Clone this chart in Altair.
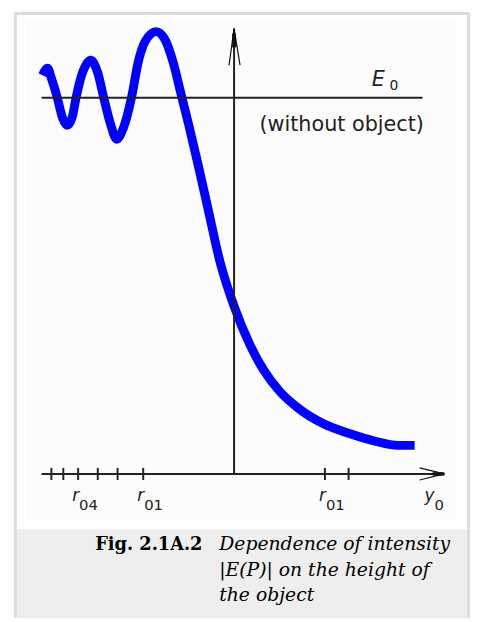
import altair as alt
import pandas as pd

# ---------------- data (axis units: x = object height y0, y = |E(P)| / E0) ----------------
curve_x = [-0.995, -0.969, -0.949, -0.918, -0.892, -0.867, -0.841, -0.821, -0.790, -0.744,
           -0.708, -0.677, -0.641, -0.610, -0.574, -0.533, -0.497, -0.462, -0.405, -0.359,
           -0.318, -0.277, -0.236, -0.190, -0.138, -0.072, 0.000, 0.082, 0.154, 0.236,
           0.338, 0.462, 0.595, 0.733, 0.851, 0.938]
curve_y = [1.060, 1.079, 1.052, 1.000, 0.948, 0.927, 0.948, 1.000, 1.063, 1.100,
           1.066, 1.000, 0.929, 0.890, 0.921, 1.000, 1.097, 1.150, 1.176, 1.155,
           1.097, 1.013, 0.929, 0.829, 0.711, 0.562, 0.446, 0.344, 0.276, 0.220,
           0.173, 0.134, 0.108, 0.087, 0.076, 0.076]

e0_level = 1.0
e0_line_x = [-1.0, 0.979]
x_axis_x = [-1.0, 1.092]
y_axis_top = 1.184

tick_x = [-0.949, -0.887, -0.810, -0.708, -0.605, -0.472, 0.472, 0.595]
tick_half = 0.016

label_x = [-0.805, -0.467, 0.477, 1.041]
label_main = ["r", "r", "r", "y"]
label_sub = ["04", "01", "01", "0"]
label_main_y = -0.071
label_sub_y = -0.095

e_label_x, e_label_y = 0.715, 1.031
e_sub_x, e_sub_y = 0.808, 1.021
note_text = "(without object)"
note_x, note_y = 0.559, 0.913

caption_label = "Fig. 2.1A.2"
caption_lines = ["Dependence of intensity", "|E(P)| on the height of", "the object"]

# arrow segments (x, y, x2, y2, width)
seg_x = [0.0, 0.0, 0.0, 1.092, 1.092, 1.031]
seg_y = [1.184, 1.184, 1.171, 0.0, 0.0, 0.0]
seg_x2 = [-0.026, 0.031, 0.0, 0.964, 0.964, 1.092]
seg_y2 = [1.087, 1.087, 1.134, 0.016, -0.016, 0.0]
seg_w = [1.2, 1.2, 4, 1.2, 1.2, 3.5]

# ---------------- layout ----------------
W, H = 469, 614
X0_PX, UX = 229, 195   # pixel of x=0, pixels per unit
Y0_PX, UY = 468, 381   # pixel of y=0, pixels per unit

xs = alt.Scale(domain=[-X0_PX / UX, (W - X0_PX) / UX], nice=False, zero=False)
ys = alt.Scale(domain=[(Y0_PX - H) / UY, Y0_PX / UY], nice=False, zero=False)

one = pd.DataFrame({"a": [0]})


def rect(x1, x2, y1, y2, color):
    return alt.Chart(one).mark_rect(color=color, opacity=1).encode(
        x=alt.value(x1), x2=alt.value(x2), y=alt.value(y1), y2=alt.value(y2))


decor = [
    rect(6, 468, 0, 614, "#dcdcdc"),
    rect(9, 465, 3, 614, "#ffffff"),
    rect(18, 455, 8, 515, "#fcfcfc"),
    rect(9, 465, 524, 614, "#eeeeee"),
]

curve_df = pd.DataFrame({"x": curve_x, "y": curve_y})
curve = alt.Chart(curve_df).mark_line(
    color="#0000ff", strokeWidth=9, interpolate="monotone", strokeJoin="round", strokeCap="butt"
).encode(x=alt.X("x:Q", scale=xs, axis=None), y=alt.Y("y:Q", scale=ys, axis=None))

lines_df = pd.DataFrame({
    "x": [e0_line_x[0], 0.0, x_axis_x[0]],
    "x2": [e0_line_x[1], 0.0, x_axis_x[1]],
    "y": [e0_level, 0.0, 0.0],
    "y2": [e0_level, y_axis_top, 0.0],
})
lines = alt.Chart(lines_df).mark_rule(color="#222222", strokeWidth=2).encode(
    x=alt.X("x:Q", scale=xs, axis=None), x2="x2:Q",
    y=alt.Y("y:Q", scale=ys, axis=None), y2="y2:Q")

ticks_df = pd.DataFrame({"x": tick_x, "y": [-tick_half] * len(tick_x), "y2": [tick_half] * len(tick_x)})
ticks = alt.Chart(ticks_df).mark_rule(color="#222222", strokeWidth=2).encode(
    x=alt.X("x:Q", scale=xs, axis=None),
    y=alt.Y("y:Q", scale=ys, axis=None), y2="y2:Q")

seg_df = pd.DataFrame({"x": seg_x, "y": seg_y, "x2": seg_x2, "y2": seg_y2, "w": seg_w})
arrows = alt.Chart(seg_df).mark_rule(color="#111111").encode(
    x=alt.X("x:Q", scale=xs, axis=None), x2="x2:Q",
    y=alt.Y("y:Q", scale=ys, axis=None), y2="y2:Q",
    strokeWidth=alt.StrokeWidth("w:Q", scale=None))

lab_df = pd.DataFrame({"x": label_x, "main": label_main, "sub": label_sub,
                       "ym": [label_main_y] * 4, "ys": [label_sub_y] * 4})
lab_main = alt.Chart(lab_df).mark_text(
    align="right", baseline="alphabetic", font="DejaVu Sans", fontStyle="italic",
    fontSize=17, color="#222222").encode(
    x=alt.X("x:Q", scale=xs, axis=None), y=alt.Y("ym:Q", scale=ys, axis=None), text="main:N")
lab_sub = alt.Chart(lab_df).mark_text(
    align="left", baseline="alphabetic", font="DejaVu Sans", fontSize=15,
    color="#222222").encode(
    x=alt.X("x:Q", scale=xs, axis=None), y=alt.Y("ys:Q", scale=ys, axis=None), text="sub:N")

e_df = pd.DataFrame({"x": [e_label_x], "y": [e_label_y], "t": ["E"]})
e_txt = alt.Chart(e_df).mark_text(
    align="left", baseline="alphabetic", font="DejaVu Sans", fontStyle="italic",
    fontSize=21, color="#222222").encode(
    x=alt.X("x:Q", scale=xs, axis=None), y=alt.Y("y:Q", scale=ys, axis=None), text="t:N")
es_df = pd.DataFrame({"x": [e_sub_x], "y": [e_sub_y], "t": ["0"]})
es_txt = alt.Chart(es_df).mark_text(
    align="left", baseline="alphabetic", font="DejaVu Sans", fontSize=14,
    color="#222222").encode(
    x=alt.X("x:Q", scale=xs, axis=None), y=alt.Y("y:Q", scale=ys, axis=None), text="t:N")
note_df = pd.DataFrame({"x": [note_x], "y": [note_y], "t": [note_text]})
note = alt.Chart(note_df).mark_text(
    align="center", baseline="alphabetic", font="DejaVu Sans", fontSize=21,
    color="#222222").encode(
    x=alt.X("x:Q", scale=xs, axis=None), y=alt.Y("y:Q", scale=ys, axis=None), text="t:N")

caption = [alt.Chart(one).mark_text(
    align="right", baseline="alphabetic", font="DejaVu Serif", fontWeight="bold",
    fontSize=18, color="black", text=caption_label).encode(x=alt.value(197), y=alt.value(545))]
for i, line in enumerate(caption_lines):
    caption.append(alt.Chart(one).mark_text(
        align="left", baseline="alphabetic", font="DejaVu Serif", fontStyle="italic",
        fontSize=19, color="black", text=line).encode(x=alt.value(214), y=alt.value(545 + 26 * i)))

chart = alt.layer(
    *decor, curve, lines, ticks, arrows, lab_main, lab_sub, e_txt, es_txt, note, *caption
).properties(
    width=W, height=H, padding=0, background="white",
    autosize=alt.AutoSizeParams(type="none"),
).configure_view(stroke=None)

chart.save("out.html", embed_options={"renderer": "svg", "actions": False})
